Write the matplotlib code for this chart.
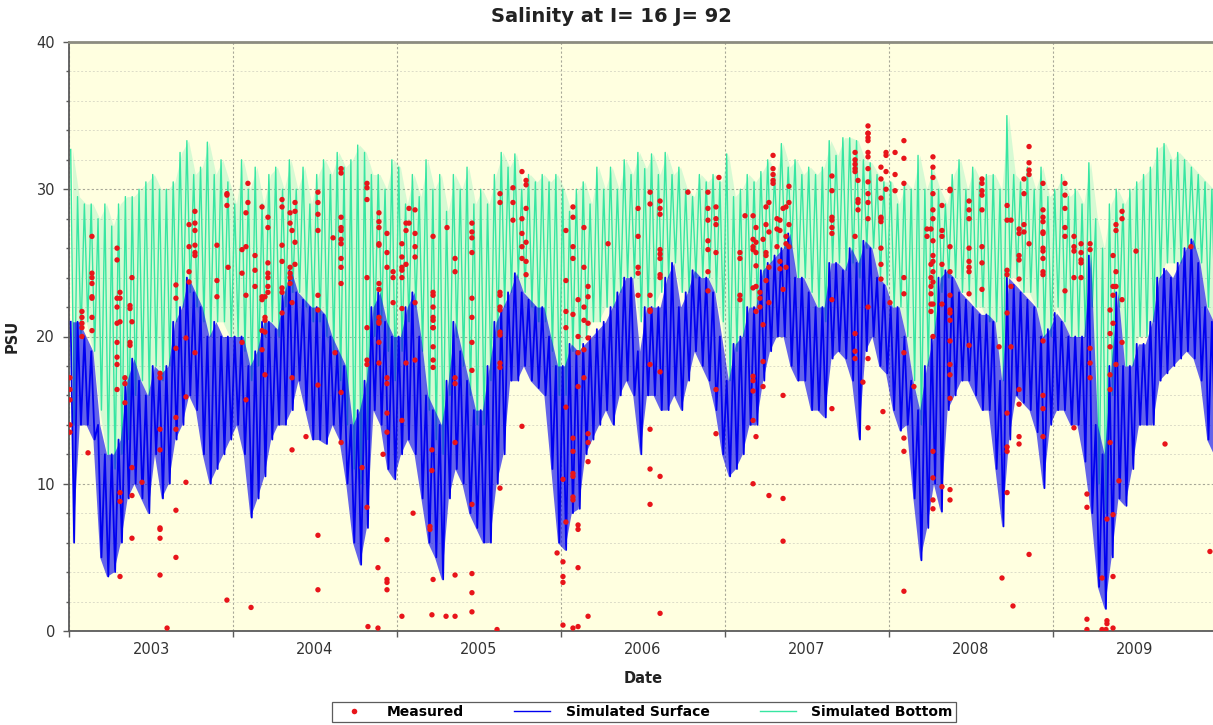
import numpy as np
import matplotlib
matplotlib.use("Agg")
import matplotlib.pyplot as plt
from matplotlib.lines import Line2D
from matplotlib.ticker import MultipleLocator, FixedLocator, NullFormatter, FixedFormatter

first_year = 2003
years = [2003, 2004, 2005, 2006, 2007, 2008, 2009]

# Simulated salinity, half-monthly high / low of the tidal signal (PSU), one row per year
surface_high = [
    21, 21, 20, 19, 14, 12, 12, 13, 17, 18.5, 17, 16, 18, 17.5, 18, 21, 22, 24, 23, 22, 20, 21, 20, 20,
    20, 20, 18, 19, 21, 21, 20.5, 23, 24.5, 23, 22.5, 22, 22, 21.5, 20, 19, 18, 14, 15, 17, 22, 23, 21, 20,
    20, 22, 23, 20, 16, 15, 14, 17, 21, 19, 17, 15, 15, 18, 21, 22, 23, 24.3, 23, 22.5, 22, 22, 20, 18,
    18, 19.5, 19, 19.5, 20, 20.5, 21, 22, 23, 24, 24, 19, 22, 22, 22, 24, 25, 22, 23, 24.5, 24, 24, 23, 20,
    17, 19.5, 20, 22, 22, 24.5, 25, 25.5, 26, 27, 24, 24, 23, 22, 22, 25, 25, 24.5, 26, 25, 26.5, 26, 24, 23.5,
    22, 22, 20, 17, 15, 18, 20, 24, 24.5, 24, 23, 22.5, 22, 21.5, 21.5, 21, 17, 24, 23.5, 23, 22.5, 22, 20, 20.5,
    21.6, 21, 20, 20, 20, 25.5, 14, 12, 18, 23, 18, 18, 19.5, 19.5, 21, 24, 24.6, 24, 25, 26, 26.6, 25, 22, 21,
]
surface_low = [
    6, 14, 14, 13, 5, 3.7, 4, 6, 9, 10, 9, 8, 12, 9, 10, 13, 14, 16, 15, 12, 10, 11, 12, 13,
    14, 12, 7.7, 9, 10.5, 13, 14, 14, 15, 17, 15, 13, 13, 12.7, 14, 13, 10, 6, 4.5, 7, 15, 14, 11, 10.3,
    12, 13, 12, 9, 6, 5, 3.5, 9, 11, 10, 8, 7, 6, 6, 10, 12, 17, 17, 18, 17, 16.5, 16, 11, 6,
    5.5, 8, 8.3, 12, 13, 14, 15, 14, 16, 17, 16, 12, 16, 16, 15, 15, 16, 15, 17, 19, 18, 17, 15, 12,
    10.5, 11, 12, 14, 14, 17, 19, 20, 20, 18, 17, 17, 15, 15, 14.5, 18.5, 19, 18.5, 17, 13, 19, 20, 18, 17.5,
    15, 13.6, 14, 9, 4.8, 7, 10, 8.1, 15, 16, 17, 17, 16, 15, 15, 11, 7.1, 13, 16, 15.5, 15, 13.5, 9.7, 14,
    15, 15, 14, 14, 11.5, 8, 3, 1.5, 5, 9, 8.5, 11, 14, 14, 14, 17, 17.5, 18, 18.5, 19, 18.5, 17, 13, 12,
]
bottom_high = [
    32.7, 29.5, 29, 29, 28, 29, 27.5, 29, 29.5, 29.5, 30, 30.5, 31, 30, 30, 30.5, 32.5, 33.3, 31, 31.5, 33.2, 31, 32, 30.5,
    29, 32, 30, 31.5, 29, 31, 31.5, 30, 32, 30, 31.5, 29, 31, 32, 31, 32.5, 31.5, 32, 33, 32.5, 31, 31, 30, 32,
    31.5, 29, 31, 29.5, 32, 30, 31, 28.5, 31, 30, 31.5, 29, 30, 29, 31, 32.5, 31.5, 32.4, 30, 31, 30.5, 31, 30.5, 31,
    30, 28.5, 30, 30.5, 29, 31.5, 30, 31.5, 30, 32, 31, 32.5, 31.4, 32.4, 31, 32.5, 31, 31.5, 30, 29.5, 31, 30.5, 31, 30.5,
    32.4, 29.5, 30, 31, 30.5, 31.2, 32, 31, 33.1, 31.5, 32, 31, 31.5, 31, 31.5, 33.3, 32.3, 33.5, 33.5, 33.3, 32, 31.8, 31, 30.5,
    30.5, 29, 30.5, 30, 32.3, 30, 31.4, 30, 29, 31, 32, 30, 31.5, 30.5, 31, 31, 30, 35, 31, 30.5, 31.5, 30, 31.5, 29.5,
    30, 31, 29.5, 30, 29, 31.8, 28, 26, 29, 30, 29, 30, 30.5, 31, 31.5, 32.8, 33.1, 32, 32.5, 32, 31.5, 31, 30.5, 30,
]
bottom_low = [
    14, 20, 21, 19, 15, 12, 11, 12, 13, 16, 17, 16, 18, 17, 18, 21, 22, 23, 22, 21, 20, 21, 21, 20,
    20, 19, 17, 18, 20, 21, 20, 22, 23, 23, 22, 21, 21, 20, 19, 17, 14, 11, 10, 13, 20, 21, 19, 17,
    19, 21, 22, 19, 15, 13, 12, 16, 20, 18, 16, 14, 14, 17, 20, 22, 23, 24, 23, 22, 21, 21, 19, 16,
    16, 19, 19, 20, 21, 21, 22, 22, 23, 24, 24, 21, 22, 22, 23, 24, 25, 23, 23, 24, 24, 24, 23, 21,
    17, 19, 20, 22, 22, 24, 25, 25.5, 26, 26, 24, 24, 23, 22, 21, 25, 25, 24.5, 25, 24, 26, 26, 24, 23.5,
    22, 22, 20, 17, 14, 18, 20, 23, 24, 24, 23, 23, 22, 22, 21, 21, 17, 24, 24, 23, 23, 22, 20, 20,
    22, 21, 20, 20, 20, 22, 10, 8, 16, 22, 18, 18, 20, 20, 21, 24, 25, 25, 25, 26, 26, 25, 22, 21,
]

# Measured salinity: sampling time (years after 1 Jan 2003) and the values taken at that time
sample_time = [
    0.006, 0.079, 0.116, 0.140, 0.293, 0.311, 0.341, 0.372, 0.384, 0.445, 0.555, 0.598, 0.652, 0.713,
    0.732, 0.768, 0.902, 0.963, 0.970, 1.055, 1.079, 1.091, 1.110, 1.134, 1.177, 1.195, 1.213, 1.299,
    1.348, 1.360, 1.378, 1.445, 1.518, 1.610, 1.622, 1.659, 1.787, 1.817, 1.823, 1.884, 1.890, 1.915,
    1.939, 1.976, 2.030, 2.055, 2.073, 2.098, 2.110, 2.201, 2.213, 2.220, 2.299, 2.305, 2.354, 2.457,
    2.610, 2.628, 2.707, 2.762, 2.787, 2.976, 3.012, 3.030, 3.073, 3.104, 3.140, 3.165, 3.287, 3.470,
    3.543, 3.604, 3.774, 3.896, 3.945, 3.963, 4.091, 4.122, 4.171, 4.189, 4.213, 4.232, 4.250, 4.268,
    4.293, 4.317, 4.335, 4.354, 4.372, 4.390, 4.652, 4.793, 4.811, 4.841, 4.872, 4.951, 4.963, 4.982,
    5.006, 5.037, 5.091, 5.152, 5.232, 5.256, 5.268, 5.323, 5.372, 5.488, 5.567, 5.671, 5.689, 5.720,
    5.744, 5.756, 5.793, 5.823, 5.854, 5.939, 6.073, 6.128, 6.171, 6.207, 6.226, 6.299, 6.323, 6.329,
    6.348, 6.366, 6.384, 6.402, 6.421, 6.506, 6.683, 6.841, 6.957,
]
sample_psu = [
    [17.2, 16.4, 15.7, 14.0, 13.5], [21.7, 21.3, 20.9, 20.6, 20.0], [12.1],
    [26.8, 24.3, 24.0, 23.6, 22.7, 22.6, 21.3, 20.4],
    [26.0, 25.2, 22.6, 22.0, 20.9, 19.6, 18.6, 18.1, 16.4], [23.0, 22.6, 21.0, 9.4, 8.8, 3.7],
    [17.2, 16.8, 15.5], [22.1, 21.9, 19.6, 19.4], [24.0, 21.0, 11.1, 9.2, 6.3], [10.1],
    [17.5, 17.2, 13.7, 12.3, 7.0, 6.9, 6.3, 3.8], [0.2], [23.5, 22.6, 19.2, 14.5, 13.7, 8.2, 5.0],
    [19.9, 15.9, 10.1], [27.6, 26.1, 24.4, 23.7], [28.5, 27.7, 27.2, 26.2, 25.7, 25.5, 18.9],
    [26.2, 23.8, 22.7], [29.7, 29.6, 28.9, 2.1], [24.7], [25.9, 24.3, 19.6], [28.4, 26.1, 22.8, 15.7],
    [30.4, 29.1], [1.6], [25.5, 24.5, 23.4], [28.8, 22.7, 22.5, 20.4, 19.1], [22.7, 21.3, 21.1, 20.3, 17.4],
    [28.1, 27.4, 25.0, 24.3, 24.0, 23.4, 23.0], [29.3, 28.8, 26.2, 25.1, 23.3, 23.0, 21.6],
    [28.4, 27.7, 24.7, 24.3, 24.0, 23.6], [27.2, 22.3, 17.2, 12.3], [29.1, 28.5, 26.4, 24.9], [13.2],
    [29.8, 29.1, 28.3, 27.2, 22.8, 21.8, 16.7, 6.5, 2.8], [26.7], [18.9],
    [31.4, 31.1, 28.1, 27.4, 27.2, 26.6, 26.3, 25.3, 24.7, 23.6, 16.2, 12.8], [11.1],
    [30.4, 30.1, 29.3, 24.0, 20.6, 18.4, 18.1, 8.4], [0.3], [4.3, 0.2],
    [28.4, 27.8, 27.4, 26.3, 26.2, 23.6, 23.2, 21.3, 20.9, 21.0, 19.6, 18.2], [12.0],
    [6.2, 17.2, 16.8, 14.8, 13.5, 27.0, 25.7, 24.7, 3.5, 3.3, 2.8], [24.4, 24.0, 22.3],
    [26.3, 25.4, 24.7, 24.5, 24.0, 21.9, 14.3, 1.0], [27.7, 27.2, 24.9, 18.2], [28.7, 27.7], [8.0],
    [28.6, 27.0, 26.1, 25.4, 22.3, 18.4], [7.1, 6.9], [10.9, 12.3, 1.1],
    [26.8, 23.0, 22.8, 22.0, 21.3, 21.1, 20.6, 20.6, 19.3, 18.4, 17.9, 3.5], [1.0], [27.4],
    [25.3, 24.4, 17.2, 16.8, 12.8, 3.8, 1.0],
    [27.7, 27.1, 26.7, 25.7, 22.6, 21.3, 19.6, 17.7, 8.6, 3.9, 2.6, 1.3], [0.1],
    [29.7, 29.1, 23.0, 22.8, 22.0, 21.8, 20.3, 20.1, 18.2, 17.9, 9.7], [30.1, 29.1, 27.9],
    [31.2, 13.9, 28.0, 27.0, 26.1, 25.3], [30.6, 30.3, 28.7, 26.4, 25.1, 24.2], [5.3],
    [4.7, 3.7, 3.3, 0.4, 10.3], [27.2, 23.8, 21.7, 20.6, 15.2, 7.4],
    [28.8, 28.1, 26.1, 25.3, 21.5, 13.1, 12.2, 10.7, 10.5, 9.1, 8.9, 0.2],
    [22.5, 20.0, 18.9, 16.6, 7.2, 6.9, 4.3, 0.3], [27.4, 24.7, 22.0, 21.1, 19.1, 17.2],
    [23.4, 22.7, 20.9, 19.9, 13.4, 12.8, 11.5, 1.0], [26.3], [28.7, 26.8, 24.7, 24.3, 22.8],
    [29.8, 29.0, 22.8, 21.8, 21.7, 18.1, 13.7, 11.0, 8.6],
    [29.2, 28.7, 28.3, 25.9, 25.6, 25.3, 24.2, 24.0, 17.6, 10.5, 1.2], [29.8],
    [29.8, 28.7, 27.9, 26.5, 25.9, 24.4, 23.1], [28.8, 28.0, 27.6, 25.7, 16.4, 13.4], [30.8],
    [25.7, 25.3, 22.8, 22.5], [28.2], [28.2, 26.6, 26.1, 25.9, 23.3, 17.3, 17.0, 16.3, 14.3, 10.0],
    [27.4, 26.4, 25.7, 24.8, 23.4, 21.7, 13.2], [23.0, 22.6, 22.0], [26.6, 20.8, 18.3, 16.6],
    [28.8, 27.6, 25.7, 25.5, 23.8], [29.1, 27.1, 24.7, 22.3, 9.2], [31.4, 31.0, 30.6, 30.4, 32.3],
    [28.0, 26.1, 27.3], [27.9, 27.2, 25.1, 24.6], [28.7, 23.2, 16.0, 9.0, 6.1], [28.8, 26.8, 26.3, 24.7],
    [30.2, 29.1, 27.6, 26.1], [30.9, 29.9, 28.1, 27.9, 27.4, 27.0, 22.5, 15.1],
    [32.5, 32.0, 31.4, 31.2, 31.7, 26.8, 20.2, 19.0, 18.5], [30.6, 29.3, 29.1, 28.6], [16.9],
    [34.3, 33.8, 33.8, 33.5, 33.3, 32.5, 32.2, 31.4, 30.5, 29.7, 28.0, 29.1, 22.0, 18.5, 13.8],
    [31.5, 30.7, 29.4, 28.1, 28.0, 27.8, 26.0, 24.9, 23.9], [14.9], [32.5, 32.3, 31.2, 30.0],
    [22.3], [32.5, 31.0, 29.9], [33.3, 32.1, 30.4, 24.0, 22.9, 18.9, 13.1, 12.2, 2.7], [16.6],
    [27.3, 26.8], [27.3, 24.9, 24.0, 23.4, 22.9, 22.2, 21.7],
    [32.2, 31.5, 30.8, 29.7, 28.6, 28.0, 26.5, 25.5, 25.1, 24.4, 23.7, 22.2, 20.0, 12.2, 10.4, 8.9, 8.3],
    [26.8, 24.9, 27.2, 22.2, 28.9, 9.8],
    [30.0, 29.9, 26.1, 24.4, 22.8, 21.8, 21.6, 21.1, 19.7, 18.1, 17.4, 15.8, 9.6, 8.9],
    [29.2, 28.6, 28.0, 26.0, 25.1, 24.7, 24.4, 22.9, 19.4],
    [30.7, 30.4, 29.9, 29.6, 28.6, 26.1, 25.0, 23.2], [19.3], [3.6],
    [28.9, 27.9, 24.5, 24.2, 21.6, 14.8, 12.5, 12.2, 9.4], [27.9, 23.4, 19.3], [1.7],
    [27.3, 27.0, 25.5, 25.2, 23.9, 16.4, 15.4, 13.2, 12.7], [30.7, 29.7, 27.6, 27.1],
    [32.9, 31.8, 31.3, 31.0, 26.3, 5.2],
    [30.4, 28.6, 28.1, 27.8, 27.1, 27.0, 26.0, 25.8, 25.3, 24.4, 24.2, 19.7, 16.0, 15.1, 13.2],
    [30.4, 29.6, 28.7, 27.4, 26.8, 23.1], [26.8, 26.1, 25.8, 24.0, 13.8], [26.3, 25.7, 25.2, 25.0, 24.0],
    [9.3, 8.4, 0.8, 0.1], [26.3, 25.9, 19.2, 18.2, 17.2], [3.6, 0.1], [0.1], [0.7, 0.5, 7.6],
    [21.8, 20.2, 19.3, 17.4, 16.4, 12.8], [25.5, 23.4, 22.8, 20.9, 7.9, 3.7, 0.2],
    [27.6, 27.2, 24.4, 23.4, 18.1], [10.2], [28.5, 28.0, 22.5, 19.6], [25.8], [12.7], [26.1], [5.4],
]

# half-month time steps: highs in the first half of each step, lows in the second
n = len(surface_high)
step = np.arange(n) / 24.0 + first_year
t_mid = step + 0.5 / 24
t_sim = np.empty(2 * n)
t_sim[0::2] = step + 0.25 / 24
t_sim[1::2] = step + 0.75 / 24

surf = np.empty(2 * n)
surf[0::2] = surface_high
surf[1::2] = surface_low
bott = np.empty(2 * n)
bott[0::2] = bottom_high
bott[1::2] = bottom_low

meas_t = np.concatenate([[first_year + t] * len(v) for t, v in zip(sample_time, sample_psu)])
meas_v = np.concatenate(sample_psu)

blue = '#0000f0'
green = '#36e6a2'
red = '#e8141a'
grid_c = '#a8a898'
axis_c = '#5a5a5a'

fig = plt.figure(figsize=(12.13, 7.25), dpi=100)
ax = fig.add_axes([69 / 1213, 94 / 725, 1148 / 1213, 589 / 725])
ax.set_facecolor('#ffffe0')

# bottom layer first, surface over it, measurements on top
ax.fill_between(t_mid, bottom_low, bottom_high, color=green, alpha=0.2, lw=0, zorder=2)
ax.plot(t_sim, bott, color=green, lw=1.0, zorder=2)
ax.fill_between(t_mid, surface_low, surface_high, color='#1010f0', alpha=0.65, lw=0, zorder=3)
ax.plot(t_sim, surf, color=blue, lw=1.3, zorder=3)
ax.scatter(meas_t, meas_v, s=15, color=red, edgecolors='none', zorder=4)

ax.set_xlim(first_year, first_year + 7)
ax.set_ylim(0, 40)

# year boundaries carry the ticks and grid, year labels sit mid-period
ax.xaxis.set_major_locator(FixedLocator([first_year + i for i in range(8)]))
ax.xaxis.set_major_formatter(NullFormatter())
ax.xaxis.set_minor_locator(FixedLocator([y + 0.5 for y in years]))
ax.xaxis.set_minor_formatter(FixedFormatter([str(y) for y in years]))
ax.tick_params(axis='x', which='major', length=4, width=1, color=axis_c, direction='out')
ax.tick_params(axis='x', which='minor', length=0, pad=8, labelsize=10.5, labelcolor='#333333')

ax.yaxis.set_major_locator(MultipleLocator(10))
ax.yaxis.set_minor_locator(MultipleLocator(2))
ax.tick_params(axis='y', which='major', length=4, width=1, color=axis_c, labelsize=10.5,
               labelcolor='#333333', pad=6)
ax.tick_params(axis='y', which='minor', length=2, width=1, color=axis_c)

ax.grid(True, which='major', axis='both', color=grid_c, lw=0.8, ls=(0, (2, 2)))
ax.grid(True, which='minor', axis='y', color='#dcdcc8', lw=0.7, ls=(0, (2, 2)))
ax.set_axisbelow(True)

for side in ['left', 'bottom']:
    ax.spines[side].set_color(axis_c)
    ax.spines[side].set_linewidth(1.3)
ax.spines['top'].set_color('#8c8c80')
ax.spines['top'].set_linewidth(2)
ax.spines['right'].set_visible(False)

fig.text(611 / 1213, 1 - 17 / 725, 'Salinity at I= 16 J= 92', ha='center', va='center',
         fontsize=14, fontweight='bold', color='#222222')
ax.set_xlabel('Date', fontsize=10.5, fontweight='bold', color='#222222', labelpad=10)
ax.set_ylabel('PSU', fontsize=10.5, fontweight='bold', color='#222222', labelpad=12)

handles = [
    Line2D([], [], ls='none', marker='o', ms=4, color=red, mec='none'),
    Line2D([], [], color=blue, lw=1),
    Line2D([], [], color=green, lw=1),
]
leg = fig.legend(handles, ['Measured', 'Simulated Surface', 'Simulated Bottom'],
                 loc='center', bbox_to_anchor=(644 / 1213, 1 - 712 / 725), ncol=3,
                 prop={'weight': 'bold', 'size': 10}, frameon=True, fancybox=False,
                 edgecolor='#333333', handlelength=2.6, handletextpad=1.1,
                 columnspacing=3.6, borderpad=0.25, borderaxespad=0)
leg.get_frame().set_linewidth(0.9)

fig.savefig('out.png', dpi=100, facecolor='white')
